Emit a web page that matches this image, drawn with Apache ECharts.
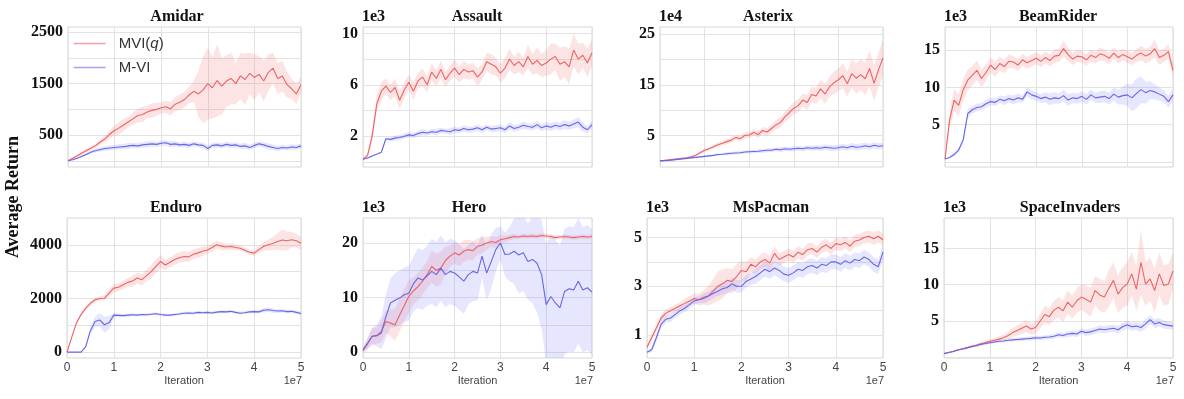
<!DOCTYPE html>
<html>
<head>
<meta charset="utf-8">
<script src="https://cdn.jsdelivr.net/npm/echarts@6/dist/echarts.min.js"></script>
<style>html,body{margin:0;padding:0;background:#fff}#main{width:1184px;height:399px}</style>
</head>
<body>
<div id="main"></div>
<script>
// one sample every 1e6 iterations, x axis shown in units of 1e7
var xStep = 0.1;
var xTicks = [0, 1, 2, 3, 4, 5];
var seriesNames = ['MVI(q)', 'M-VI'];

// Amidar
var amidarMviq = [0,50,100,150,200,250,300,370,430,520, 590,640,700,760,820,880,900,950,980,1000, 1030,1050,1010,1100,1140,1190,1280,1350,1300,1380, 1500,1420,1560,1450,1550,1600,1500,1650,1580,1700, 1620,1680,1550,1720,1800,1600,1650,1480,1400,1300, 1480];
var amidarMviqSpread = [0,20,25,30,35,40,40,50,60,80, 100,120,120,100,120,130,150,120,140,130, 110,120,130,140,150,150,160,200,450,650, 700,600,700,550,500,500,400,450,500,400, 450,350,400,350,300,300,300,250,200,200, 150];
var amidarMvi = [0,20,50,90,130,170,200,220,240,250, 260,270,275,290,300,290,310,320,330,320, 340,350,320,330,310,320,300,330,310,300, 240,300,310,290,320,300,310,280,290,260, 300,330,310,280,260,240,260,250,270,260, 290];
var amidarMviSpread = [0,10,15,20,25,30,40,40,50,50, 50,50,50,60,50,50,50,60,50,50, 50,50,60,50,50,50,50,50,50,50, 60,50,50,50,50,50,50,50,60,50, 50,50,50,60,50,60,50,50,50,50, 50];

// Assault (1e3)
var assaultMviq = [0.2,0.5,2.0,4.5,5.5,5.9,5.4,5.8,4.8,5.6, 6.2,5.5,6.3,6.6,6.0,7.0,6.5,7.2,6.4,6.9, 7.3,6.8,7.2,7.0,7.1,6.6,7.0,7.8,7.6,7.4, 6.9,7.3,8.0,7.5,7.8,7.4,8.2,7.6,7.9,7.5, 7.7,8.0,8.2,7.6,7.8,7.4,8.7,8.0,8.3,7.7, 8.5];
var assaultMviqSpread = [0.05,0.2,0.4,0.7,0.7,0.6,0.6,0.7,0.7,0.6, 0.6,0.7,0.6,0.7,0.6,0.7,0.6,0.7,0.6,0.6, 0.7,0.6,0.7,0.6,0.6,0.7,0.6,0.7,0.8,0.7, 0.7,0.8,0.8,0.7,0.8,0.7,0.9,0.8,1.0,0.9, 1.0,1.2,1.0,1.3,1.2,1.4,1.3,1.2,1.0,1.1, 1.0];
var assaultMvi = [0.2,0.3,0.45,0.6,0.75,1.8,1.75,1.85,1.9,2.0, 2.1,2.05,2.2,2.3,2.25,2.35,2.3,2.45,2.4,2.35, 2.5,2.45,2.6,2.5,2.55,2.65,2.5,2.7,2.55,2.6, 2.65,2.5,2.8,2.6,2.7,2.85,2.75,2.7,2.9,2.65, 2.8,2.7,2.85,2.75,2.9,2.8,2.95,3.1,2.7,2.5, 2.9];
var assaultMviSpread = [0.02,0.05,0.05,0.05,0.05,0.1,0.15,0.2,0.2,0.2, 0.2,0.2,0.2,0.25,0.2,0.2,0.25,0.2,0.2,0.25, 0.25,0.2,0.25,0.25,0.2,0.25,0.25,0.2,0.25,0.25, 0.25,0.25,0.3,0.25,0.25,0.3,0.25,0.25,0.3,0.25, 0.3,0.3,0.3,0.3,0.35,0.3,0.35,0.4,0.35,0.3, 0.3];

// Asterix (1e4)
var asterixMviq = [0,0.1,0.2,0.3,0.4,0.5,0.6,0.8,1.1,1.6, 2.1,2.4,2.8,3.2,3.5,3.8,4.1,4.6,4.4,5.0, 5.1,5.6,5.2,6.0,5.7,6.4,7.1,7.6,8.7,9.5, 10.4,10.9,12.0,11.5,13.1,12.8,14.2,13.2,14.6,15.4, 16.0,16.8,15.2,17.2,16.3,17.0,16.2,18.2,15.3,18.0, 20.3];
var asterixMviqSpread = [0,0.05,0.1,0.1,0.1,0.15,0.15,0.2,0.2,0.3, 0.3,0.3,0.4,0.4,0.4,0.5,0.5,0.5,0.5,0.6, 0.6,0.6,0.7,0.7,0.8,0.8,0.9,1.0,1.0,1.2, 1.2,1.3,1.3,1.5,1.5,1.6,1.8,2.0,2.0,2.2, 2.2,2.5,2.5,2.8,3.0,3.0,3.2,3.5,3.5,3.5, 3.5];
var asterixMvi = [0,0.05,0.1,0.2,0.3,0.4,0.5,0.6,0.7,0.8, 0.9,1.0,1.1,1.25,1.3,1.4,1.5,1.55,1.6,1.75, 1.8,1.85,1.9,2.0,2.1,2.1,2.3,2.2,2.4,2.3, 2.4,2.5,2.4,2.6,2.5,2.6,2.5,2.7,2.6,2.5, 2.6,2.8,2.6,2.9,2.7,2.8,3.0,2.8,3.1,2.9, 3.0];
var asterixMviSpread = [0,0.02,0.05,0.05,0.08,0.1,0.1,0.12,0.15,0.15, 0.2,0.2,0.2,0.25,0.25,0.3,0.3,0.3,0.3,0.3, 0.35,0.35,0.35,0.4,0.4,0.4,0.4,0.45,0.45,0.45, 0.5,0.5,0.5,0.5,0.5,0.55,0.55,0.55,0.6,0.6, 0.6,0.6,0.6,0.65,0.65,0.65,0.6,0.6,0.6,0.6, 0.6];

// BeamRider (1e3)
var beamMviq = [0.4,5.6,8.3,7.6,9.7,11.0,11.6,12.3,11.2,12.0, 13.0,12.4,13.2,12.8,13.5,13.4,13.0,13.7,13.3,13.6, 13.9,13.5,14.0,13.6,14.2,14.3,15.2,14.4,13.8,14.2, 14.1,13.7,14.3,14.0,14.5,14.3,13.9,14.6,14.0,14.4, 14.1,13.8,14.3,14.6,14.2,14.5,15.2,14.0,14.3,14.8, 12.3];
var beamMviqSpread = [0.1,1.2,1.5,1.5,1.5,1.4,1.3,1.3,1.2,1.1, 1.0,1.0,0.9,0.9,0.9,0.8,0.8,0.8,0.8,0.8, 0.8,0.8,0.8,0.8,0.9,0.9,1.1,0.9,0.8,0.8, 0.8,0.8,0.8,0.8,0.9,0.8,0.8,0.8,0.8,0.8, 0.8,0.8,0.9,1.0,1.0,1.0,1.2,1.0,0.9,1.0, 1.0];
var beamMvi = [0.4,0.6,1.0,1.6,3.0,6.5,7.0,7.3,7.4,7.8, 8.1,8.0,8.4,8.2,8.5,8.3,8.6,8.4,9.4,9.0, 8.8,8.5,8.7,8.4,8.6,8.5,8.9,8.3,8.6,8.5, 8.8,8.4,9.0,8.6,8.7,8.8,8.5,9.1,8.7,8.9, 9.0,8.6,9.2,9.7,9.3,9.6,9.4,9.1,8.8,8.1, 9.0];
var beamMviSpread = [0.05,0.1,0.2,0.3,0.5,0.6,0.5,0.5,0.5,0.5, 0.5,0.5,0.5,0.6,0.5,0.6,0.6,0.5,0.6,0.6, 0.6,0.6,0.7,0.8,0.8,0.7,0.8,0.8,0.7,0.7, 0.7,0.7,0.7,0.7,0.8,0.8,0.8,0.9,1.0,1.2, 1.5,1.8,2.0,1.8,1.5,1.2,1.0,0.9,0.8,0.8, 0.8];

// Enduro
var enduroMviq = [0,550,1080,1400,1640,1820,1950,2000,2010,2200, 2385,2420,2510,2600,2650,2760,2700,2850,3000,3200, 3380,3250,3350,3450,3520,3565,3550,3650,3700,3760, 3810,3900,4000,3950,3920,3940,3900,3875,3800,3720, 3690,3820,3940,4000,4050,4120,4180,4150,4190,4150, 4060];
var enduroMviqSpread = [0,30,50,60,70,80,80,80,100,150, 150,150,160,170,200,200,220,220,250,250, 250,200,200,200,200,200,180,180,180,180, 150,150,150,150,120,120,100,100,100,100, 100,120,150,200,250,300,400,350,300,250, 250];
var enduroMvi = [0,0,0,0,200,800,1140,1200,1020,1100, 1380,1370,1360,1380,1390,1380,1400,1390,1410,1430, 1400,1380,1380,1400,1420,1450,1460,1450,1480,1470, 1480,1460,1490,1510,1500,1520,1480,1450,1470,1500, 1510,1500,1560,1580,1550,1530,1540,1510,1520,1480, 1440];
var enduroMviSpread = [0,0,0,0,30,100,200,250,300,250, 80,60,60,60,50,50,50,50,50,50, 50,50,50,50,50,50,50,50,50,50, 50,50,50,50,50,50,50,50,50,50, 60,60,80,80,80,70,60,60,60,60, 60];

// Hero (1e3)
var heroMviq = [0.3,1.5,2.9,3.0,3.8,5.6,5.3,5.0,6.8,8.5, 10.2,11.2,12.0,13.0,14.2,15.7,15.0,15.4,16.8,17.6, 18.2,17.8,18.5,18.8,18.6,19.4,19.6,20.0,20.3,20.1, 20.6,20.8,21.0,21.2,21.1,21.3,21.2,21.3,21.2,21.4, 21.3,21.2,21.0,21.1,21.2,21.1,21.0,21.1,21.2,21.1, 21.2];
var heroMviqSpread = [0.5,1.0,1.5,1.5,2.0,2.0,2.5,3.0,3.0,3.0, 3.0,2.5,2.5,2.5,2.5,3.0,3.0,3.0,2.5,2.0, 2.0,2.0,2.0,1.8,1.8,1.5,1.5,1.2,1.0,1.0, 0.8,0.6,0.5,0.5,0.4,0.4,0.4,0.4,0.4,0.4, 0.4,0.4,0.4,0.4,0.4,0.4,0.4,0.4,0.4,0.4, 0.4];
var heroMvi = [0.4,1.6,2.9,3.0,3.5,6.5,9.0,9.5,9.9,10.5, 10.8,12.5,13.6,13.2,14.0,14.8,14.2,15.4,14.2,14.8, 14.5,13.8,13.0,14.2,14.8,14.5,17.6,14.5,16.6,18.8, 20.0,17.9,18.0,18.5,17.8,18.2,16.6,17.0,16.3,14.2, 8.7,10.2,9.0,8.1,11.1,11.6,11.4,13.0,11.4,11.8, 11.0];
var heroMviSpread = [0.5,1.0,1.5,2.0,3.0,4.0,4.5,5.0,5.0,5.0, 5.0,5.0,5.5,5.5,5.5,6.0,6.0,6.0,6.0,6.0, 6.0,6.0,6.0,5.5,5.5,5.0,4.0,5.0,5.0,4.0, 3.0,4.0,5.0,6.0,7.0,7.0,7.0,8.0,9.0,10.0, 11.0,11.5,11.5,11.5,11.5,11.5,11.5,11.5,11.5,11.5, 11.5];

// MsPacman (1e3)
var pacmanMviq = [0.5,0.9,1.3,1.7,1.9,2.0,2.1,2.2,2.3,2.4, 2.5,2.45,2.55,2.6,2.8,3.0,3.1,3.25,3.2,3.4, 3.65,3.6,3.9,3.8,4.0,4.1,3.95,4.35,4.1,4.2, 4.3,4.2,4.4,4.3,4.5,4.55,4.4,4.6,4.7,4.55, 4.75,4.7,4.8,4.65,4.85,4.9,5.0,5.05,4.95,5.05, 4.9];
var pacmanMviqSpread = [0.1,0.15,0.15,0.15,0.15,0.15,0.15,0.15,0.2,0.2, 0.2,0.25,0.3,0.4,0.5,0.6,0.6,0.5,0.5,0.5, 0.4,0.4,0.3,0.3,0.3,0.3,0.3,0.3,0.25,0.25, 0.25,0.25,0.25,0.25,0.25,0.25,0.25,0.25,0.25,0.25, 0.25,0.25,0.25,0.25,0.25,0.25,0.25,0.25,0.25,0.25, 0.25];
var pacmanMvi = [0.3,0.4,0.9,1.45,1.65,1.7,1.85,2.0,2.1,2.25, 2.4,2.45,2.5,2.6,2.7,2.8,2.9,2.95,3.1,3.0, 3.0,3.2,3.3,3.4,3.55,3.7,3.6,3.75,3.65,3.5, 3.45,3.55,3.7,3.65,3.8,3.85,3.75,3.9,3.85,4.0, 4.0,3.9,4.05,3.95,4.1,4.05,4.2,4.1,3.9,3.8, 4.4];
var pacmanMviSpread = [0.05,0.1,0.15,0.15,0.15,0.15,0.15,0.15,0.15,0.15, 0.15,0.15,0.2,0.2,0.2,0.2,0.25,0.25,0.25,0.25, 0.25,0.25,0.25,0.3,0.3,0.3,0.3,0.3,0.3,0.3, 0.3,0.3,0.3,0.3,0.3,0.3,0.3,0.3,0.3,0.3, 0.3,0.3,0.3,0.3,0.3,0.3,0.3,0.3,0.3,0.3, 0.3];

// SpaceInvaders (1e3)
var spaceMviq = [0.5,0.65,0.8,1.0,1.15,1.3,1.5,1.65,1.85,2.0, 2.2,2.35,2.5,2.7,3.0,3.4,3.7,4.0,4.3,3.9, 4.1,5.0,5.9,5.6,6.5,6.9,6.4,7.6,6.9,7.8, 8.3,8.0,7.6,9.2,8.6,8.3,9.5,10.6,8.7,9.6, 10.1,11.5,9.4,13.1,10.1,10.8,9.2,11.5,9.9,10.1, 11.9];
var spaceMviqSpread = [0.05,0.1,0.1,0.15,0.15,0.2,0.2,0.2,0.25,0.3, 0.3,0.3,0.35,0.4,0.5,0.6,0.7,0.8,0.8,0.8, 0.9,1.0,1.2,1.2,1.3,1.4,1.5,1.6,1.6,1.7, 1.8,1.9,2.0,2.0,2.2,2.2,2.5,2.5,2.6,2.8, 3.0,3.0,3.0,4.5,3.0,3.0,3.0,3.0,2.8,2.8, 2.5];
var spaceMvi = [0.5,0.65,0.8,1.0,1.15,1.3,1.45,1.6,1.75,1.9, 2.0,2.1,2.2,2.25,2.35,2.4,2.45,2.5,2.55,2.6, 2.7,2.65,2.75,2.8,2.9,3.1,3.0,3.2,3.3,3.2, 3.6,3.4,3.5,3.7,3.9,3.8,3.9,4.0,3.8,4.2, 4.5,4.2,4.3,4.1,4.6,5.2,4.6,4.8,4.5,4.4, 4.3];
var spaceMviSpread = [0.05,0.05,0.1,0.1,0.1,0.1,0.15,0.15,0.15,0.15, 0.2,0.2,0.2,0.2,0.2,0.25,0.25,0.25,0.25,0.3, 0.3,0.3,0.3,0.3,0.35,0.35,0.35,0.4,0.4,0.4, 0.4,0.45,0.45,0.45,0.5,0.5,0.5,0.5,0.5,0.55, 0.55,0.55,0.55,0.6,0.6,0.6,0.6,0.6,0.55,0.55, 0.5];

// y gridlines and the labelled subset for each panel
var panels = [
  {title: 'Amidar', scale: '', mviq: amidarMviq, mviqSd: amidarMviqSpread, mvi: amidarMvi, mviSd: amidarMviSpread,
   yMin: -120, yMax: 2600, yGrid: [0, 500, 1000, 1500, 2000, 2500], yLabels: [500, 1500, 2500]},
  {title: 'Assault', scale: '1e3', mviq: assaultMviq, mviqSd: assaultMviqSpread, mvi: assaultMvi, mviSd: assaultMviSpread,
   yMin: -0.4, yMax: 10.5, yGrid: [0, 2, 4, 6, 8, 10], yLabels: [2, 6, 10]},
  {title: 'Asterix', scale: '1e4', mviq: asterixMviq, mviqSd: asterixMviqSpread, mvi: asterixMvi, mviSd: asterixMviSpread,
   yMin: -1.2, yMax: 26.4, yGrid: [0, 5, 10, 15, 20, 25], yLabels: [5, 15, 25]},
  {title: 'BeamRider', scale: '1e3', mviq: beamMviq, mviqSd: beamMviqSpread, mvi: beamMvi, mviSd: beamMviSpread,
   yMin: -0.67, yMax: 18.1, yGrid: [0, 5, 10, 15], yLabels: [5, 10, 15]},
  {title: 'Enduro', scale: '', mviq: enduroMviq, mviqSd: enduroMviqSpread, mvi: enduroMvi, mviSd: enduroMviSpread,
   yMin: -220, yMax: 5000, yGrid: [0, 1000, 2000, 3000, 4000], yLabels: [0, 2000, 4000]},
  {title: 'Hero', scale: '1e3', mviq: heroMviq, mviqSd: heroMviqSpread, mvi: heroMvi, mviSd: heroMviSpread,
   yMin: -1.1, yMax: 24.6, yGrid: [0, 5, 10, 15, 20], yLabels: [0, 10, 20]},
  {title: 'MsPacman', scale: '1e3', mviq: pacmanMviq, mviqSd: pacmanMviqSpread, mvi: pacmanMvi, mviSd: pacmanMviSpread,
   yMin: 0.06, yMax: 5.8, yGrid: [1, 2, 3, 4, 5], yLabels: [1, 3, 5]},
  {title: 'SpaceInvaders', scale: '1e3', mviq: spaceMviq, mviqSd: spaceMviqSpread, mvi: spaceMvi, mviSd: spaceMviSpread,
   yMin: -0.1, yMax: 19.2, yGrid: [0, 5, 10, 15], yLabels: [5, 10, 15]}
];

// plot boxes in pixels, title centre x
var layout = [
  {left: 68, top: 27, width: 233, tx: 177},
  {left: 363, top: 27, width: 229, tx: 477},
  {left: 660, top: 27, width: 223, tx: 768},
  {left: 945, top: 27, width: 228, tx: 1058},
  {left: 67, top: 218, width: 234, tx: 176},
  {left: 363, top: 218, width: 229, tx: 469},
  {left: 647, top: 218, width: 236, tx: 771},
  {left: 944, top: 218, width: 229, tx: 1070}
];
var plotH = 140;

var redLine = '#ee6262', blueLine = '#6666e6';
var redBand = 'rgba(248,130,130,0.22)', blueBand = 'rgba(130,130,248,0.2)';
var serif = '"Liberation Serif", "Times New Roman", serif';
var sans = '"Liberation Sans", Arial, sans-serif';

function points(values) {
  return values.map(function (v, k) { return [k * xStep, v]; });
}

// shaded mean +/- spread, drawn as one polygon through the axis scales
function bandSeries(i, mean, sd, color) {
  var rows = mean.map(function (v, k) { return [k * xStep, v - sd[k], v + sd[k]]; });
  return {
    type: 'custom', xAxisIndex: i, yAxisIndex: i, silent: true,
    data: rows,
    encode: {x: 0, y: [1, 2]},
    renderItem: function (params, api) {
      if (params.dataIndex !== 0) return;
      var pts = [];
      rows.forEach(function (r) { pts.push(api.coord([r[0], r[2]])); });
      for (var k = rows.length - 1; k >= 0; k--) pts.push(api.coord([rows[k][0], rows[k][1]]));
      var cs = params.coordSys;
      return {
        type: 'polygon', shape: {points: pts}, style: {fill: color},
        clipPath: {type: 'rect', shape: {x: cs.x, y: cs.y, width: cs.width, height: cs.height}}
      };
    }
  };
}

var grids = [], xAxes = [], yAxes = [], series = [], graphics = [];

panels.forEach(function (p, i) {
  var L = layout[i];
  var bottomRow = i >= 4;
  grids.push({left: L.left, top: L.top, width: L.width, height: plotH, show: true,
    borderColor: '#d6d6d6', borderWidth: 1, backgroundColor: '#fff'});
  xAxes.push({
    gridIndex: i, type: 'value', min: 0, max: 5, interval: 1,
    axisLine: {show: false}, axisTick: {show: false},
    splitLine: {show: true, lineStyle: {color: '#e2e2e2', width: 1}},
    axisLabel: {show: bottomRow, margin: 4, color: '#444', fontFamily: sans, fontSize: 12},
    name: bottomRow ? 'Iteration' : '', nameLocation: 'middle', nameGap: 17,
    nameTextStyle: {color: '#444', fontFamily: sans, fontSize: 11}
  });
  yAxes.push({
    gridIndex: i, type: 'value', min: p.yMin, max: p.yMax,
    axisLine: {show: false},
    axisTick: {show: false, customValues: p.yGrid},
    splitLine: {show: true, lineStyle: {color: '#e2e2e2', width: 1}},
    axisLabel: {customValues: p.yLabels, margin: 5, color: '#111', fontFamily: serif,
      fontWeight: 'bold', fontSize: 16, formatter: function (v) { return String(v); }}
  });

  series.push(bandSeries(i, p.mviq, p.mviqSd, redBand));
  series.push({
    name: seriesNames[0], type: 'line', xAxisIndex: i, yAxisIndex: i, data: points(p.mviq),
    symbol: 'none', silent: true, color: redLine, lineStyle: {color: redLine, width: 1.1}
  });
  series.push(bandSeries(i, p.mvi, p.mviSd, blueBand));
  series.push({
    name: seriesNames[1], type: 'line', xAxisIndex: i, yAxisIndex: i, data: points(p.mvi),
    symbol: 'none', silent: true, color: blueLine, lineStyle: {color: blueLine, width: 1.1}
  });

  graphics.push({type: 'text', x: L.tx, y: L.top - 10,
    style: {text: p.title, font: 'bold 16px ' + serif, fill: '#111', align: 'center', verticalAlign: 'middle',
      textAlign: 'center', textVerticalAlign: 'middle'}});
  if (p.scale) {
    graphics.push({type: 'text', x: L.left - 1, y: L.top - 10,
      style: {text: p.scale, font: 'bold 16px ' + serif, fill: '#111', align: 'left', verticalAlign: 'middle',
        textAlign: 'left', textVerticalAlign: 'middle'}});
  }
  if (bottomRow) {
    graphics.push({type: 'text', x: L.left + L.width + 1, y: L.top + plotH + 23,
      style: {text: '1e7', font: '11px ' + sans, fill: '#444', align: 'right', verticalAlign: 'middle',
        textAlign: 'right', textVerticalAlign: 'middle'}});
  }
});

graphics.push({type: 'text', x: 13, y: 197, rotation: Math.PI / 2,
  style: {text: 'Average Return', font: 'bold 18px ' + serif, fill: '#111', align: 'center', verticalAlign: 'middle',
    textAlign: 'center', textVerticalAlign: 'middle'}});

var chart = echarts.init(document.getElementById('main'), null, {renderer: 'canvas'});
chart.setOption({
  animation: false,
  backgroundColor: '#fff',
  grid: grids,
  xAxis: xAxes,
  yAxis: yAxes,
  series: series,
  graphic: graphics,
  legend: {
    data: [
      {name: seriesNames[0], lineStyle: {color: redLine, opacity: 0.6, width: 1.3}},
      {name: seriesNames[1], lineStyle: {color: blueLine, opacity: 0.6, width: 1.3}}
    ],
    orient: 'vertical', left: 73, top: 36, padding: 0,
    itemWidth: 32, itemHeight: 14, itemGap: 9, selectedMode: false,
    itemStyle: {opacity: 0},
    formatter: function (name) {
      return name === 'MVI(q)' ? '{n|MVI(}{i|q}{n|)}' : '{n|' + name + '}';
    },
    textStyle: {
      rich: {
        n: {fontFamily: sans, fontSize: 15, color: '#333'},
        i: {fontFamily: sans, fontSize: 15, color: '#333', fontStyle: 'italic'}
      },
      padding: [0, 0, 0, 8]
    }
  }
});
</script>
</body>
</html>
